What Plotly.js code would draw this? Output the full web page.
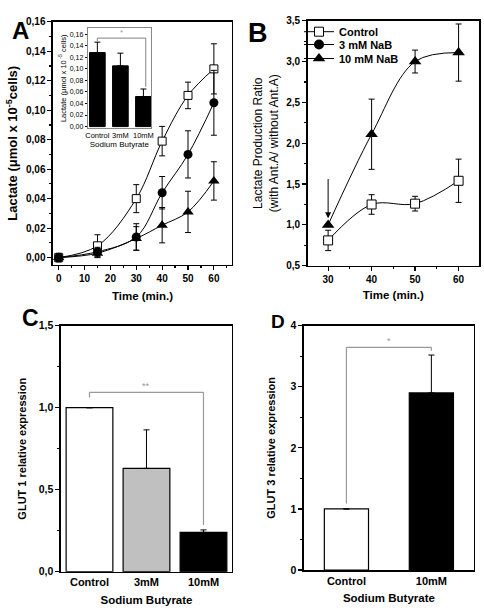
<!DOCTYPE html>
<html><head><meta charset="utf-8">
<script src="https://cdn.plot.ly/plotly-3.0.1.min.js"></script>
<style>html,body{margin:0;padding:0;background:#fff}#g{width:484px;height:611px}</style>
</head><body><div id="g"></div>
<script>
// Panel A data
const timeA = [0, 15, 30, 40, 50, 60];
const ctrlA = [0.000, 0.008, 0.040, 0.079, 0.110, 0.128];
const ctrlAerr = [0.003, 0.0075, 0.0095, 0.010, 0.009, 0.017];
const nab3A = [0.000, 0.004, 0.014, 0.044, 0.070, 0.105];
const nab3Aerr = [0.002, 0.003, 0.009, 0.011, 0.016, 0.022];
const nab10A = [0.000, 0.003, 0.013, 0.022, 0.031, 0.052];
const nab10Aerr = [0.002, 0.003, 0.008, 0.012, 0.014, 0.013];
// Inset data
const insetCats = ['Control', '3mM', '10mM'];
const insetVals = [0.128, 0.105, 0.052];
const insetErr = [0.018, 0.022, 0.013];
// Panel B data
const timeB = [30, 40, 50, 60];
const ctrlB = [0.81, 1.25, 1.26, 1.54];
const ctrlBerr = [0.125, 0.12, 0.09, 0.265];
const nab10B = [1.00, 2.11, 3.00, 3.11];
const nab10Berr = [0.0, 0.43, 0.14, 0.35];
// Panel C data
const catsC = ['Control', '3mM', '10mM'];
const glut1 = [1.0, 0.63, 0.24];
const glut1err = [0, 0.235, 0.015];
// Panel D data
const catsD = ['Control', '10mM'];
const glut3 = [1.0, 2.9];
const glut3err = [0, 0.62];

const F = 'Liberation Sans, Arial, sans-serif';
const bold = (s) => ({family: F, size: s, color: '#000', weight: 'bold'});
const eb = (arr) => ({type: 'data', array: arr, visible: true, color: '#000', thickness: 1, width: 3});
const ebUp = (arr) => ({type: 'data', symmetric: false, array: arr, arrayminus: arr.map(() => 0), visible: true, color: '#000', thickness: 1, width: 3});
const ln = {color: '#000', width: 1, shape: 'spline'};

const traces = [
  {x: timeA, y: ctrlA, error_y: eb(ctrlAerr), mode: 'lines+markers', line: ln, marker: {symbol: 'square', size: 8, color: '#fff', line: {color: '#000', width: 1}}, xaxis: 'x', yaxis: 'y', showlegend: false},
  {x: timeA, y: nab3A, error_y: eb(nab3Aerr), mode: 'lines+markers', line: ln, marker: {symbol: 'circle', size: 9, color: '#000'}, xaxis: 'x', yaxis: 'y', showlegend: false},
  {x: timeA, y: nab10A, error_y: eb(nab10Aerr), mode: 'lines+markers', line: ln, marker: {symbol: 'triangle-up', size: 10, color: '#000'}, xaxis: 'x', yaxis: 'y', showlegend: false},
  {x: insetCats, y: insetVals, type: 'bar', width: 0.68, error_y: ebUp(insetErr), marker: {color: '#000', line: {color: '#000', width: 1}}, xaxis: 'x5', yaxis: 'y5', showlegend: false},
  {x: timeB, y: ctrlB, error_y: eb(ctrlBerr), mode: 'lines+markers', name: 'Control', legend: 'legend', line: ln, marker: {symbol: 'square', size: 9, color: '#fff', line: {color: '#000', width: 1}}, xaxis: 'x2', yaxis: 'y2'},
  {x: [null], y: [null], mode: 'lines+markers', name: '3 mM NaB', legend: 'legend2', line: {color: '#000', width: 1}, marker: {symbol: 'circle', size: 10, color: '#000'}, xaxis: 'x2', yaxis: 'y2'},
  {x: timeB, y: nab10B, error_y: eb(nab10Berr), mode: 'lines+markers', name: '10 mM NaB', legend: 'legend3', line: ln, marker: {symbol: 'triangle-up', size: 11, color: '#000'}, xaxis: 'x2', yaxis: 'y2'},
  {x: catsC, y: glut1, type: 'bar', width: 0.82, error_y: ebUp(glut1err), marker: {color: ['#fff', '#c0c0c0', '#000'], line: {color: '#000', width: 1.2}}, xaxis: 'x3', yaxis: 'y3', showlegend: false},
  {x: catsD, y: glut3, type: 'bar', width: 0.52, error_y: ebUp(glut3err), marker: {color: ['#fff', '#000'], line: {color: '#000', width: 1.2}}, xaxis: 'x4', yaxis: 'y4', showlegend: false}
];

const ax = (o) => Object.assign({showline: true, linecolor: '#000', linewidth: 1.5, mirror: true, ticks: 'outside', ticklen: 4, tickwidth: 1.2, tickcolor: '#000', showgrid: false, zeroline: false, tickfont: bold(10), automargin: false}, o);
const gray = '#999';
const shp = (xr, yr, x0, y0, x1, y1) => ({type: 'line', xref: xr, yref: yr, x0, y0, x1, y1, line: {color: gray, width: 1.2}});
const leg = (ypx) => ({x: 299 / 484, y: 1 - ypx / 611, xanchor: 'left', yanchor: 'middle', bgcolor: 'rgba(0,0,0,0)', font: bold(11), itemwidth: 30});
const minor = (d) => ({dtick: d, ticks: 'outside', ticklen: 2, tickcolor: '#000'});

const layout = {
  width: 484, height: 611, margin: {l: 0, r: 0, t: 0, b: 0},
  paper_bgcolor: '#fff', plot_bgcolor: 'rgba(0,0,0,0)', separators: ',.',
  font: {family: F, color: '#000'},
  xaxis: ax({domain: [0.1095, 0.4793], range: [-2.2, 67], tick0: 0, dtick: 10, anchor: 'y', minor: minor(5),
    title: {text: '<b>Time (min.)</b>', font: {family: F, size: 11.5}, standoff: 8}}),
  yaxis: ax({domain: [0.5663, 0.9645], range: [-0.005, 0.16], dtick: 0.02, tickformat: '.2f', anchor: 'x', minor: minor(0.01),
    title: {text: '<b>Lactate (μmol x 10<sup>-5</sup>cells)</b>', font: {family: F, size: 13}, standoff: 5}}),
  xaxis2: ax({domain: [0.6357, 0.9897], range: [25.3, 64.7], tick0: 30, dtick: 10, anchor: 'y2', minor: minor(5),
    title: {text: '<b>Time (min.)</b>', font: {family: F, size: 11.5}, standoff: 6}}),
  yaxis2: ax({domain: [0.5651, 0.9661], range: [0.5, 3.5], dtick: 0.5, tickformat: '.1f', anchor: 'x2', minor: minor(0.25),
    title: {text: 'Lactate Production Ratio<br>(with Ant.A/ without Ant.A)', font: {family: F, size: 12}, standoff: 5}}),
  xaxis3: ax({domain: [0.126, 0.4793], range: [-0.5, 2.5], anchor: 'y3', type: 'category', ticks: '', tickfont: bold(11),
    title: {text: '<b>Sodium Butyrate</b>', font: {family: F, size: 11.5}, standoff: 8}}),
  yaxis3: ax({domain: [0.0643, 0.4669], range: [0, 1.5], dtick: 0.5, tickformat: '.1f', anchor: 'x3', minor: minor(0.25), tickfont: bold(10.5),
    title: {text: '<b>GLUT 1 relative expression</b>', font: {family: F, size: 11}, standoff: 10}}),
  xaxis4: ax({domain: [0.628, 0.979], range: [-0.5, 1.5], anchor: 'y4', type: 'category', ticks: '', tickfont: bold(11),
    title: {text: '<b>Sodium Butyrate</b>', font: {family: F, size: 11.5}, standoff: 8}}),
  yaxis4: ax({domain: [0.0671, 0.4669], range: [0, 4], dtick: 1, anchor: 'x4', minor: minor(0.5), tickfont: bold(10.5),
    title: {text: '<b>GLUT 3 relative expression</b>', font: {family: F, size: 11}, standoff: 12}}),
  xaxis5: ax({domain: [0.1812, 0.312], range: [-0.42, 2.33], anchor: 'y5', type: 'category', ticks: '', linecolor: '#888', linewidth: 1,
    tickfont: {family: F, size: 7.5, color: '#000'},
    title: {text: 'Sodium Butyrate', font: {family: F, size: 8}, standoff: 2}}),
  yaxis5: ax({domain: [0.790, 0.9537], range: [-0.003, 0.17], dtick: 0.02, tickformat: '.2f', anchor: 'x5', linecolor: '#888', linewidth: 1, ticklen: 2, tickwidth: 1,
    tickfont: {family: F, size: 7, color: '#000'},
    title: {text: 'Lactate (μmol x 10<sup> -5</sup> cells)', font: {family: F, size: 7.5}, standoff: 2}}),
  legend: leg(31.7), legend2: leg(44.5), legend3: leg(58.5),
  shapes: [
    shp('x3', 'y3', 0, 1.063, 0, 1.094), shp('x3', 'y3', 0, 1.094, 2, 1.094), shp('x3', 'y3', 2, 1.094, 2, 0.285),
    shp('x4', 'y4', 0, 1.09, 0, 3.646), shp('x4', 'y4', 0, 3.646, 1, 3.646), shp('x4', 'y4', 1, 3.646, 1, 3.59),
    shp('x5', 'y5', 0, 0.147, 0, 0.153), shp('x5', 'y5', 0, 0.153, 2.1, 0.153), shp('x5', 'y5', 2.1, 0.153, 2.1, 0.069)
  ],
  annotations: [
    {xref: 'x3', yref: 'y3', x: 1, y: 1.13, text: '**', showarrow: false, font: {size: 9, color: gray}},
    {xref: 'x4', yref: 'y4', x: 0.5, y: 3.75, text: '*', showarrow: false, font: {size: 9, color: gray}},
    {xref: 'x5', yref: 'y5', x: 1.05, y: 0.162, text: '*', showarrow: false, font: {size: 8, color: gray}},
    {xref: 'x2', yref: 'y2', x: 30, y: 1.08, ax: 30, ay: 1.58, axref: 'x2', ayref: 'y2', showarrow: true, arrowhead: 2, arrowsize: 1.2, arrowwidth: 1, arrowcolor: '#000', text: ''},
    {xref: 'paper', yref: 'paper', x: 11 / 484, y: 1 - 16 / 611, text: '<b>A</b>', showarrow: false, borderpad: 0, font: {size: 24, family: F}},
    {xref: 'paper', yref: 'paper', x: 258 / 484, y: 1 - 16 / 611, text: '<b>B</b>', showarrow: false, font: {size: 27, family: F}},
    {xref: 'paper', yref: 'paper', x: 20 / 484, y: 1 - 318 / 611, text: '<b>C</b>', showarrow: false, font: {size: 23, family: F}},
    {xref: 'paper', yref: 'paper', x: 278 / 484, y: 1 - 321 / 611, text: '<b>D</b>', showarrow: false, font: {size: 19, family: F}}
  ]
};

Plotly.newPlot('g', traces, layout, {staticPlot: true});
</script></body></html>
